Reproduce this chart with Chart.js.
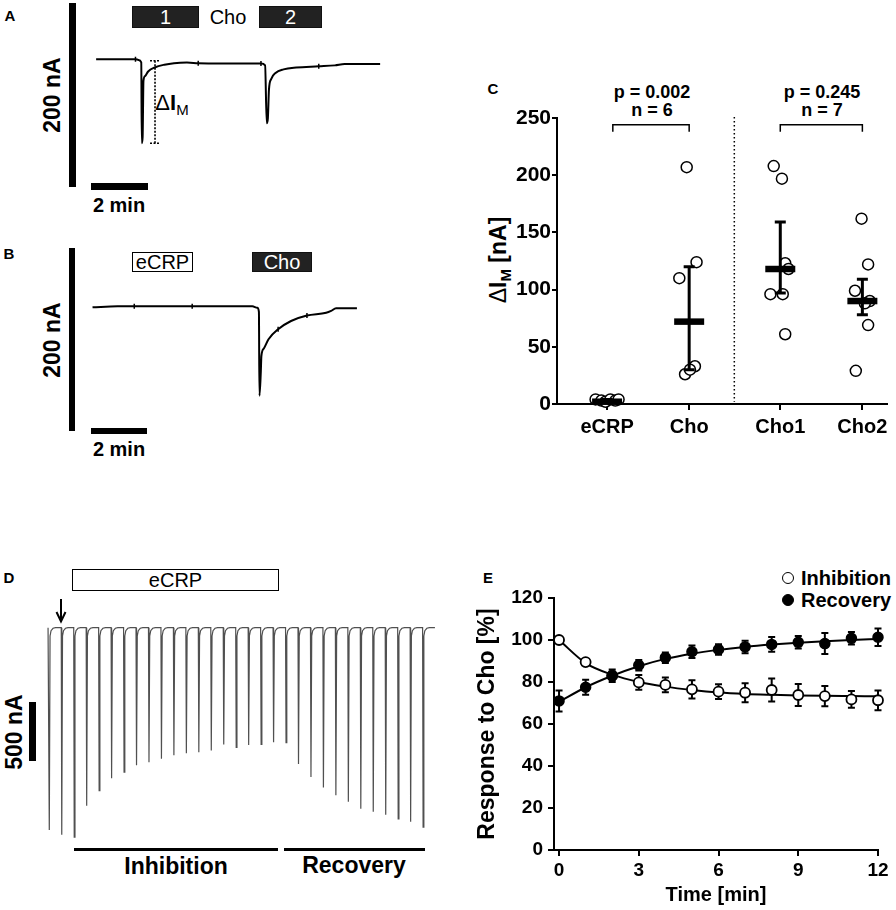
<!DOCTYPE html>
<html lang="en">
<head>
<meta charset="UTF-8">
<title>eCRP and choline-induced currents</title>
<script src="https://cdn.jsdelivr.net/npm/chart.js@4.4.1/dist/chart.umd.min.js"></script>
<style>
  body { margin: 0; background: #fff; }
  #fig { position: relative; width: 896px; height: 910px; overflow: hidden;
         font-family: 'Liberation Sans', Arial, sans-serif; color: #000; }
  #fig canvas { position: absolute; }
  .t { position: absolute; line-height: 1; white-space: nowrap; transform: translate(-50%, -50%); }
  .l { position: absolute; line-height: 1; white-space: nowrap; transform: translate(0, -50%); }
  .b { font-weight: bold; }
  .rot { transform: translate(-50%, -50%) rotate(-90deg); }
  .bar { position: absolute; background: #000; }
  .box { position: absolute; box-sizing: border-box; border: 1.5px solid #000; background: #fff;
         display: flex; align-items: center; justify-content: center; line-height: 1; font-size: 20px; }
  .dark { background: #222; color: #fff; border-color: #111; }
  .dot { position: absolute; box-sizing: border-box; width: 12px; height: 12px; border-radius: 50%;
         border: 1.8px solid #000; transform: translate(-50%, -50%); }
</style>
</head>
<body>
<div id="fig">
  <!-- A -->
  <div class="t b" style="left:10px;top:15px;font-size:15px">A</div>
  <div class="bar" style="left:69px;top:3px;width:7px;height:184px"></div>
  <div class="t b rot" style="left:52px;top:95px;font-size:23px">200 nA</div>
  <div class="box dark" style="left:132px;top:6px;width:67px;height:22px">1</div>
  <div class="t" style="left:228px;top:17px;font-size:20px">Cho</div>
  <div class="box dark" style="left:259px;top:6px;width:63px;height:22px">2</div>
  <div class="bar" style="left:91px;top:183px;width:57px;height:7px"></div>
  <div class="t b" style="left:119px;top:205px;font-size:20px">2 min</div>
  <div class="t" style="left:172px;top:103px;font-size:22px">Δ<b>I</b><span style="font-size:15px;position:relative;top:5px">M</span></div>
  <canvas id="chartA"></canvas>

  <!-- B -->
  <div class="t b" style="left:9px;top:253px;font-size:15px">B</div>
  <div class="bar" style="left:69px;top:248px;width:6px;height:183px"></div>
  <div class="t b rot" style="left:52px;top:340px;font-size:23px">200 nA</div>
  <div class="box" style="left:132px;top:252px;width:61px;height:20px">eCRP</div>
  <div class="box dark" style="left:252px;top:252px;width:60px;height:20px">Cho</div>
  <div class="bar" style="left:91px;top:428px;width:56px;height:6px"></div>
  <div class="t b" style="left:119px;top:449px;font-size:20px">2 min</div>
  <canvas id="chartB"></canvas>

  <!-- C -->
  <div class="t b" style="left:493px;top:88px;font-size:15px">C</div>
  <div class="t b" style="left:652px;top:92px;font-size:18px">p = 0.002</div>
  <div class="t b" style="left:652px;top:110px;font-size:18px">n = 6</div>
  <div class="t b" style="left:822px;top:92px;font-size:18px">p = 0.245</div>
  <div class="t b" style="left:822px;top:110px;font-size:18px">n = 7</div>
  <div class="t b rot" style="left:498px;top:260px;font-size:23px"><span style="font-weight:normal">Δ</span>I<span style="font-size:15px;position:relative;top:5px">M</span> [nA]</div>
  <canvas id="chartC"></canvas>

  <!-- D -->
  <div class="t b" style="left:9px;top:577px;font-size:15px">D</div>
  <div class="box" style="left:72px;top:569px;width:207px;height:22px">eCRP</div>
  <svg style="position:absolute;left:54px;top:598px" width="14" height="26">
    <line x1="7" y1="1" x2="7" y2="23" stroke="#000" stroke-width="2"/>
    <polyline points="2.5,14 7,23.5 11.5,14" fill="none" stroke="#000" stroke-width="2"/>
  </svg>
  <div class="bar" style="left:29px;top:702px;width:7px;height:59px"></div>
  <div class="t b rot" style="left:14px;top:732px;font-size:23px">500 nA</div>
  <div class="bar" style="left:74px;top:848px;width:204px;height:3px"></div>
  <div class="bar" style="left:284px;top:848px;width:141px;height:3px"></div>
  <div class="t b" style="left:176px;top:866px;font-size:23px">Inhibition</div>
  <div class="t b" style="left:354px;top:865px;font-size:23px">Recovery</div>
  <canvas id="chartD"></canvas>

  <!-- E -->
  <div class="t b" style="left:488px;top:577px;font-size:15px">E</div>
  <div class="dot" style="left:788px;top:578px;background:#fff"></div>
  <div class="l b" style="left:801px;top:578px;font-size:20px">Inhibition</div>
  <div class="dot" style="left:788px;top:600px;background:#000"></div>
  <div class="l b" style="left:801px;top:600px;font-size:20px">Recovery</div>
  <canvas id="chartE"></canvas>
</div>

<script>
// A: ток при двух аппликациях холина, [мин, нА]
const traceA = [[0, 0], [1.43, 0], [1.54, -0.8], [1.64, -3.6], [1.66, -99.7], [1.69, -92.4], [1.72, -25.3],
  [1.78, -19.9], [1.89, -14.5], [2.13, -9.8], [2.48, -6.5], [2.83, -4.7], [3.30, -4.0], [3.71, -4.7],
  [4.47, -5.1], [5.99, -5.1], [6.14, -7.3], [6.20, -76.1], [6.24, -70.7], [6.28, -36.2], [6.36, -23.6],
  [6.52, -16.3], [6.81, -12.0], [7.27, -9.8], [8.09, -8.4], [8.68, -7.3], [9.03, -5.8], [10.32, -5.8]];
const marksA = [[1.43, 0], [3.71, -4.7], [5.99, -5.1], [8.09, -8.4]];
const deltaA = { t: 2.14, from: -1.8, to: -99.7 };

// B: eCRP, затем холин
const traceB = [[0, -1.1], [0.91, 0], [5.82, 0], [6.0, -1.8], [6.06, -6.5], [6.08, -106.2], [6.13, -77.2],
  [6.15, -59.1], [6.24, -50], [6.41, -39.1], [6.76, -27.2], [7.23, -17.4], [7.81, -10.9], [8.51, -7.6],
  [8.69, -5.4], [8.87, -2.2], [9.63, -2.2]];
const marksB = [[1.52, 0], [3.63, 0], [6.76, -27.2], [7.81, -10.9]];

// C: ΔI_M по группам, точки + медиана и разброс
const groupsC = ['eCRP', 'Cho', 'Cho1', 'Cho2'];
const groupPosC = [1, 2, 3.11, 4.11];
const ecrpX = [0.86, 0.93, 0.98, 1.04, 1.10, 1.14];
const ecrpY = [4, 3, 2, 4, 3, 4];
const choX = [1.97, 2.09, 1.88, 2.07, 1.95, 2.01];
const choY = [207, 124, 110, 33, 26, 30];
const cho1X = [3.03, 3.13, 3.17, 3.21, 2.99, 3.14, 3.17];
const cho1Y = [208, 197, 123, 118, 96, 96, 61];
const cho2X = [4.10, 4.18, 4.02, 4.20, 4.14, 4.18, 4.03];
const cho2Y = [162, 122, 99, 90, 88, 69, 29];
const medianC = [2, 72, 118, 90];
const lowerC = [1, 30, 97, 78];
const upperC = [4, 120, 159, 109];
const sepC = 2.55;
const bracketsC = [[1.07, 2.0], [3.11, 4.11]];

// D: амплитуды ответов на холин подряд, нА
const spikesD = [1715, 1755, 1775, 1510, 1380, 1275, 1225, 1165, 1140, 1110, 1080, 1065, 1055, 1040, 990,
  1015, 995, 990, 970, 975, 1155, 1265, 1355, 1420, 1475, 1535, 1560, 1585, 1620, 1645, 1690];

// E: ответ на холин, % (среднее ± SEM) и аппроксимация
const timeE = [0, 1, 2, 3, 4, 5, 6, 7, 8, 9, 10, 11, 12];
const xTicksE = [0, 3, 6, 9, 12];
const inhMean = [100, 89.5, 83, 79.8, 78.6, 76.5, 75.4, 74.9, 76.2, 73.8, 73.3, 71.7, 71.3];
const inhSem = [0.5, 1, 2, 3.5, 3.5, 4.3, 3.5, 4.5, 5.5, 5.2, 4.8, 4, 4.7];
const recMean = [71, 77.5, 83, 88, 91.6, 94.4, 95.5, 96.7, 97.9, 98.9, 98.3, 100.8, 101.3];
const recSem = [5, 3.6, 3, 2.5, 2.5, 3, 2.5, 3, 3.5, 3, 5, 3, 4.2];
const inhFit = [100, 89, 83.5, 80, 77.8, 76.2, 75, 74.3, 73.9, 73.6, 73.4, 73.3, 73.2];
const recFit = [70.5, 77.5, 83, 87.5, 91, 93.5, 95.3, 96.7, 97.8, 98.7, 99.4, 100, 100.5];

Chart.defaults.font.family = "'Liberation Sans', Arial, sans-serif";
Chart.defaults.color = '#000';
Chart.defaults.animation = false;
Chart.defaults.responsive = false;
Chart.defaults.plugins.legend.display = false;
Chart.defaults.plugins.tooltip.enabled = false;

// ставим canvas на место
function place(id, box) {
  const c = document.getElementById(id);
  c.width = box.width;
  c.height = box.height;
  c.style.left = box.left + 'px';
  c.style.top = box.top + 'px';
  return c;
}

// пределы скрытых осей для записи тока: где ноль и сколько px на единицу
function frame(box, zeroX, zeroY, pxX, pxY) {
  return {
    x: { type: 'linear', display: false, min: (box.left - zeroX) / pxX, max: (box.left + box.width - zeroX) / pxX },
    y: { type: 'linear', display: false, min: -(box.top + box.height - zeroY) / pxY, max: (zeroY - box.top) / pxY }
  };
}

const xy = arr => arr.map(([x, y]) => ({ x, y }));

function traceSet(points) {
  return { data: xy(points), borderColor: '#000', borderWidth: 2, pointRadius: 0,
           cubicInterpolationMode: 'monotone' };
}
function markSet(points) {
  return { type: 'scatter', data: xy(points), pointStyle: 'line', pointRotation: 90, pointRadius: 2.5,
           pointBorderColor: '#000', pointBorderWidth: 1.5 };
}

// пунктирная скобка ΔI_M
const deltaPlugin = {
  id: 'deltaMark',
  afterDatasetsDraw(chart) {
    const { ctx, scales: { x, y } } = chart;
    const px = x.getPixelForValue(deltaA.t);
    const top = y.getPixelForValue(deltaA.from);
    const bot = y.getPixelForValue(deltaA.to);
    ctx.save();
    ctx.strokeStyle = '#000';
    ctx.lineWidth = 1.6;
    ctx.setLineDash([2, 1.5]);
    ctx.beginPath();
    ctx.moveTo(px, top); ctx.lineTo(px, bot);
    ctx.moveTo(px - 5, top); ctx.lineTo(px + 5, top);
    ctx.moveTo(px - 5, bot); ctx.lineTo(px + 5, bot);
    ctx.stroke();
    ctx.restore();
  }
};

// медиана, разброс, разделитель и скобки для C
const summaryPlugin = {
  id: 'summaryC',
  afterDatasetsDraw(chart) {
    const { ctx, chartArea, scales: { x, y } } = chart;
    ctx.save();
    ctx.strokeStyle = '#000';
    groupPosC.forEach((g, i) => {
      const px = x.getPixelForValue(g);
      const lo = y.getPixelForValue(lowerC[i]);
      const hi = y.getPixelForValue(upperC[i]);
      const med = y.getPixelForValue(medianC[i]);
      ctx.lineWidth = 3;
      ctx.beginPath();
      ctx.moveTo(px, lo); ctx.lineTo(px, hi);
      ctx.moveTo(px - 5.5, lo); ctx.lineTo(px + 5.5, lo);
      ctx.moveTo(px - 5.5, hi); ctx.lineTo(px + 5.5, hi);
      ctx.stroke();
      ctx.lineWidth = 6.5;
      ctx.beginPath();
      ctx.moveTo(px - 15, med); ctx.lineTo(px + 15, med);
      ctx.stroke();
    });
    // пунктир между сериями опытов
    const sx = x.getPixelForValue(sepC);
    ctx.lineWidth = 1.5;
    ctx.setLineDash([1.5, 2.5]);
    ctx.beginPath();
    ctx.moveTo(sx, chartArea.top - 1);
    ctx.lineTo(sx, y.getPixelForValue(2));
    ctx.stroke();
    // скобки сравнения
    ctx.setLineDash([]);
    ctx.lineWidth = 1.5;
    const by = y.getPixelForValue(244), bt = y.getPixelForValue(238);
    bracketsC.forEach(([a, b]) => {
      const xa = x.getPixelForValue(a), xb = x.getPixelForValue(b);
      ctx.beginPath();
      ctx.moveTo(xa, bt); ctx.lineTo(xa, by); ctx.lineTo(xb, by); ctx.lineTo(xb, bt);
      ctx.stroke();
    });
    ctx.restore();
  }
};

// планки SEM под точками для E
const errorBarsPlugin = {
  id: 'errorBars',
  beforeDatasetsDraw(chart) {
    const { ctx, scales: { y } } = chart;
    ctx.save();
    ctx.strokeStyle = '#000';
    ctx.lineWidth = 2;
    chart.data.datasets.forEach((ds, di) => {
      if (!ds.errors) return;
      chart.getDatasetMeta(di).data.forEach((pt, i) => {
        const v = ds.data[i].y, e = ds.errors[i];
        const top = y.getPixelForValue(v + e), bot = y.getPixelForValue(v - e);
        ctx.beginPath();
        ctx.moveTo(pt.x, top); ctx.lineTo(pt.x, bot);
        ctx.moveTo(pt.x - 3.5, top); ctx.lineTo(pt.x + 3.5, top);
        ctx.moveTo(pt.x - 3.5, bot); ctx.lineTo(pt.x + 3.5, bot);
        ctx.stroke();
      });
    });
    ctx.restore();
  }
};

// A
const boxA = { left: 80, top: 40, width: 320, height: 130 };
new Chart(place('chartA', boxA), {
  type: 'line',
  data: { datasets: [traceSet(traceA), markSet(marksA)] },
  options: { layout: { padding: 0 }, scales: frame(boxA, 91, 55, 28.5, 0.92) },
  plugins: [deltaPlugin]
});

// B
const boxB = { left: 80, top: 285, width: 300, height: 130 };
new Chart(place('chartB', boxB), {
  type: 'line',
  data: { datasets: [traceSet(traceB), markSet(marksB)] },
  options: { layout: { padding: 0 }, scales: frame(boxB, 87.3, 302.3, 28.5, 0.92) }
});

// C
function groupSet(xs, ys) {
  return { data: xs.map((x, i) => ({ x, y: ys[i] })), pointRadius: 5.5, pointBackgroundColor: '#fff',
           pointBorderColor: '#000', pointBorderWidth: 1.5, clip: false };
}
const axisLine = { color: '#000', width: 2 };
const boxC = { left: 470, top: 70, width: 426, height: 400 };
new Chart(place('chartC', boxC), {
  type: 'scatter',
  data: { datasets: [groupSet(ecrpX, ecrpY), groupSet(choX, choY), groupSet(cho1X, cho1Y), groupSet(cho2X, cho2Y)] },
  options: {
    layout: { padding: { top: 48, right: 9, bottom: 0, left: 0 } },
    scales: {
      x: {
        type: 'linear', min: 0.39, max: 4.41,
        afterBuildTicks: a => { a.ticks = groupPosC.map(v => ({ value: v })); },
        afterFit: a => { a.height = 66; },
        ticks: { autoSkip: false, maxRotation: 0, padding: 5, font: { size: 20, weight: 'bold' },
                 callback: (v, i) => groupsC[i] },
        grid: { drawOnChartArea: false, tickLength: 6, color: '#000', lineWidth: 2 },
        border: axisLine
      },
      y: {
        min: 0, max: 250,
        afterFit: a => { a.width = 87; },
        ticks: { stepSize: 50, padding: 1, font: { size: 21, weight: 'bold' } },
        grid: { drawOnChartArea: false, tickLength: 5, color: '#000', lineWidth: 2 },
        border: axisLine
      }
    }
  },
  plugins: [summaryPlugin]
});

// D: запись строится из амплитуд, ответ с быстрым возвратом к базовой линии
const traceD = [{ x: -0.1, y: 0 }];
spikesD.forEach((a, i) => {
  traceD.push({ x: i - 0.04, y: 0 }, { x: i, y: -a }, { x: i + 0.06, y: -70 },
              { x: i + 0.14, y: -25 }, { x: i + 0.3, y: -5 }, { x: i + 0.5, y: 0 });
});
traceD.push({ x: 30.95, y: 0 });
const boxD = { left: 40, top: 615, width: 400, height: 235 };
new Chart(place('chartD', boxD), {
  type: 'line',
  data: { datasets: [{ data: traceD, borderColor: '#505050', borderWidth: 1.2, pointRadius: 0, tension: 0 }] },
  options: { layout: { padding: 0 }, scales: frame(boxD, 49.3, 627.7, 12.46, 1 / 8.475) }
});

// E
const boxE = { left: 460, top: 550, width: 436, height: 360 };
new Chart(place('chartE', boxE), {
  type: 'scatter',
  data: {
    datasets: [
      { label: 'Recovery', data: timeE.map((t, i) => ({ x: t, y: recMean[i] })), errors: recSem,
        pointRadius: 5, pointBackgroundColor: '#000', pointBorderColor: '#000', pointBorderWidth: 1.5,
        order: 0, clip: false },
      { label: 'Inhibition', data: timeE.map((t, i) => ({ x: t, y: inhMean[i] })), errors: inhSem,
        pointRadius: 5, pointBackgroundColor: '#fff', pointBorderColor: '#000', pointBorderWidth: 1.8,
        order: 1, clip: false },
      { type: 'line', label: 'Recovery fit', data: timeE.map((t, i) => ({ x: t, y: recFit[i] })),
        borderColor: '#000', borderWidth: 2, pointRadius: 0, cubicInterpolationMode: 'monotone', order: 2 },
      { type: 'line', label: 'Inhibition fit', data: timeE.map((t, i) => ({ x: t, y: inhFit[i] })),
        borderColor: '#000', borderWidth: 2, pointRadius: 0, cubicInterpolationMode: 'monotone', order: 3 }
    ]
  },
  options: {
    layout: { padding: { top: 48, right: 18, bottom: 0, left: 14 } },
    scales: {
      x: {
        type: 'linear', min: -0.19, max: 12,
        afterBuildTicks: a => { a.ticks = xTicksE.map(v => ({ value: v })); },
        afterFit: a => { a.height = 60; },
        ticks: { padding: 3, font: { size: 19, weight: 'bold' } },
        title: { display: true, text: 'Time [min]', font: { size: 20, weight: 'bold' }, padding: { top: 0, bottom: 3 } },
        grid: { drawOnChartArea: false, tickLength: 6, color: '#000', lineWidth: 2 },
        border: axisLine
      },
      y: {
        min: 0, max: 120,
        afterFit: a => { a.width = 80; },
        ticks: { stepSize: 20, padding: 5, font: { size: 19, weight: 'bold' } },
        title: { display: true, text: 'Response to Cho [%]', font: { size: 23, weight: 'bold' }, padding: 0 },
        grid: { drawOnChartArea: false, tickLength: 6, color: '#000', lineWidth: 2 },
        border: axisLine
      }
    }
  },
  plugins: [errorBarsPlugin]
});
</script>
</body>
</html>
